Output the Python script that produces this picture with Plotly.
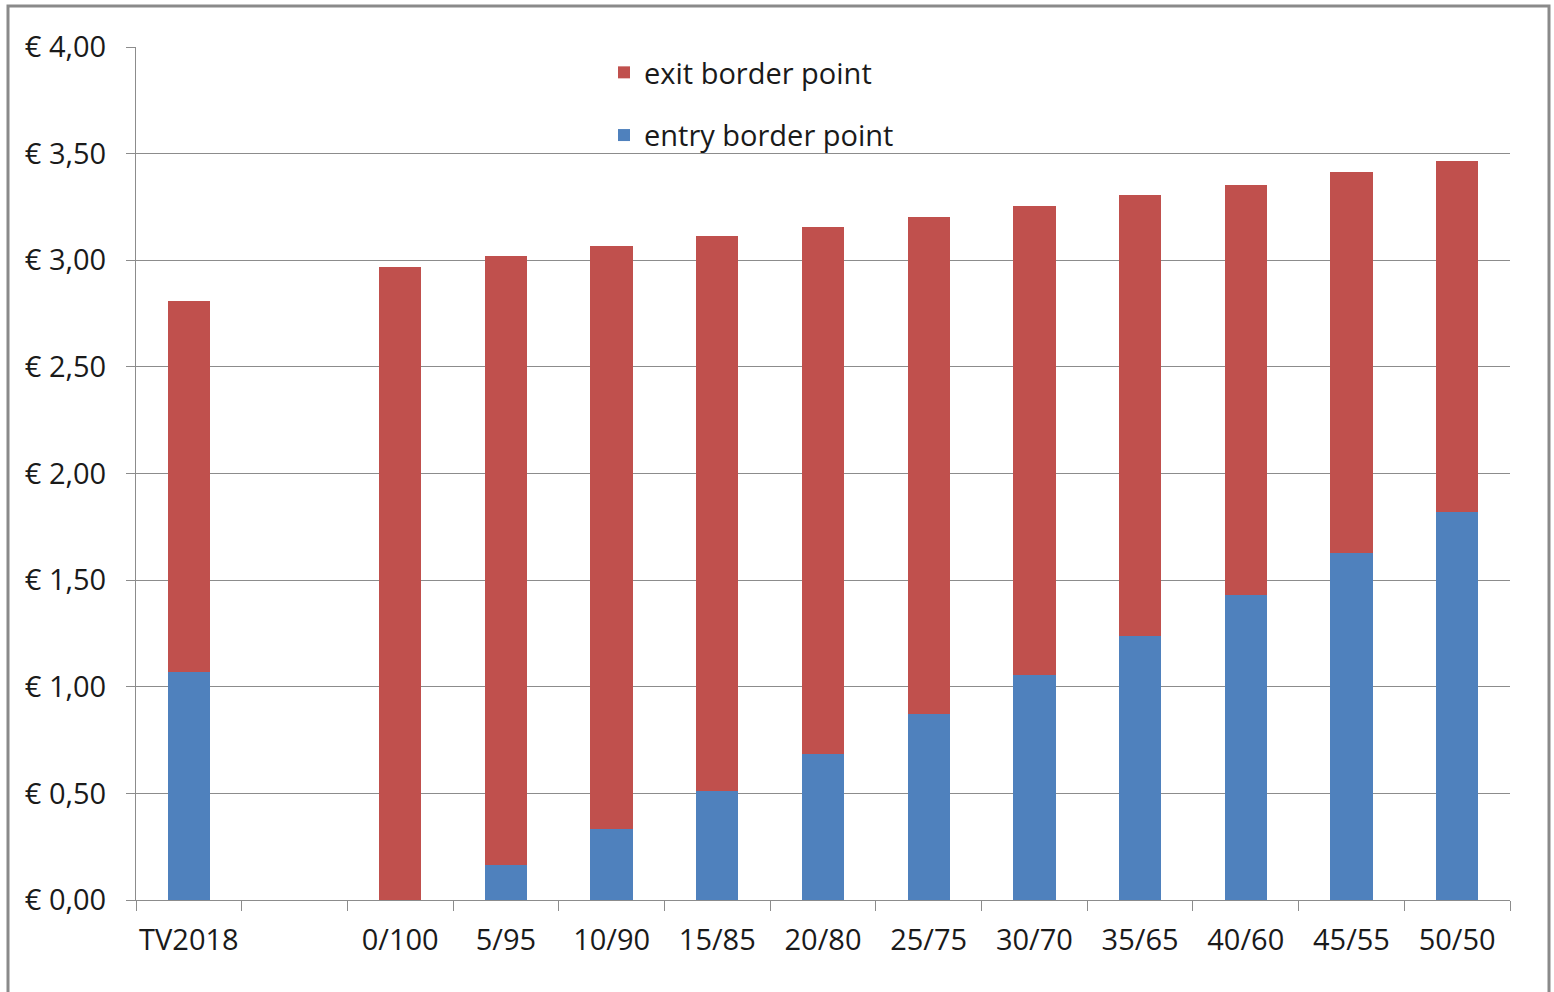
import plotly.graph_objects as go

# Tariff split scenarios (entry/exit share) compared with TV2018
categories = ["TV2018", " ", "0/100", "5/95", "10/90", "15/85", "20/80",
              "25/75", "30/70", "35/65", "40/60", "45/55", "50/50"]
entry_values = [1.07, None, 0.00, 0.165, 0.335, 0.51, 0.685, 0.87, 1.055,
                1.24, 1.43, 1.625, 1.82]
exit_values = [1.74, None, 2.97, 2.855, 2.73, 2.605, 2.47, 2.335, 2.20,
               2.065, 1.925, 1.79, 1.645]

tick_vals = [0, 0.5, 1.0, 1.5, 2.0, 2.5, 3.0, 3.5, 4.0]
tick_text = ["€ 0,00", "€ 0,50", "€ 1,00", "€ 1,50", "€ 2,00",
             "€ 2,50", "€ 3,00", "€ 3,50", "€ 4,00"]

FONT = "Open Sans"
FS = 29
TEXT = "#1a1a1a"
GRID = "#8c8c8c"

fig = go.Figure()
fig.add_trace(go.Bar(
    x=categories, y=entry_values, name="entry border point",
    marker=dict(color="#4F81BD", line=dict(width=0)),
    legendgroup="entry", legendrank=2,
))
fig.add_trace(go.Bar(
    x=categories, y=exit_values, name="exit border point",
    marker=dict(color="#C0504D", line=dict(width=0)),
    legendgroup="exit", legendrank=1,
))

W, H = 1554, 992
L, R, T, B = 136, 44, 47, 92
pw, ph = W - L - R, H - T - B

def px_x(p):
    return (p - L) / pw

def px_y(p):
    return (H - B - p) / ph

fig.update_layout(
    width=W, height=H,
    margin=dict(l=L, r=R, t=T, b=B),
    paper_bgcolor="white", plot_bgcolor="white",
    barmode="stack", bargap=0.6,
    font=dict(family=FONT, size=FS, color=TEXT),
    showlegend=True,
    legend=dict(
        x=px_x(604), y=px_y(47), xanchor="left", yanchor="top",
        traceorder="grouped", tracegroupgap=22,
        bgcolor="rgba(0,0,0,0)", font=dict(size=FS, color=TEXT),
        itemwidth=30,
    ),
    xaxis=dict(
        type="category", tickson="boundaries", ticks="outside",
        ticklen=10, tickcolor=GRID, tickwidth=1, tickangle=0,
        showline=True, linecolor=GRID, linewidth=1,
        showgrid=False, tickfont=dict(size=FS, color=TEXT),
        ticklabelstandoff=14, automargin=False,
    ),
    yaxis=dict(
        range=[0, 4], tickvals=tick_vals, ticktext=tick_text,
        ticks="outside", ticklen=9, tickcolor=GRID,
        showline=True, linecolor=GRID, linewidth=1,
        showgrid=True, gridcolor=GRID, gridwidth=1,
        zeroline=False, tickfont=dict(size=FS, color=TEXT),
        ticklabelstandoff=14, automargin=False,
    ),
    shapes=[dict(
        type="rect", xref="paper", yref="paper",
        x0=px_x(8), x1=px_x(1549), y0=px_y(1005), y1=px_y(6),
        line=dict(color="#8a8a8a", width=3), fillcolor="rgba(0,0,0,0)",
        layer="below",
    )],
)

fig.write_html("out.html")
